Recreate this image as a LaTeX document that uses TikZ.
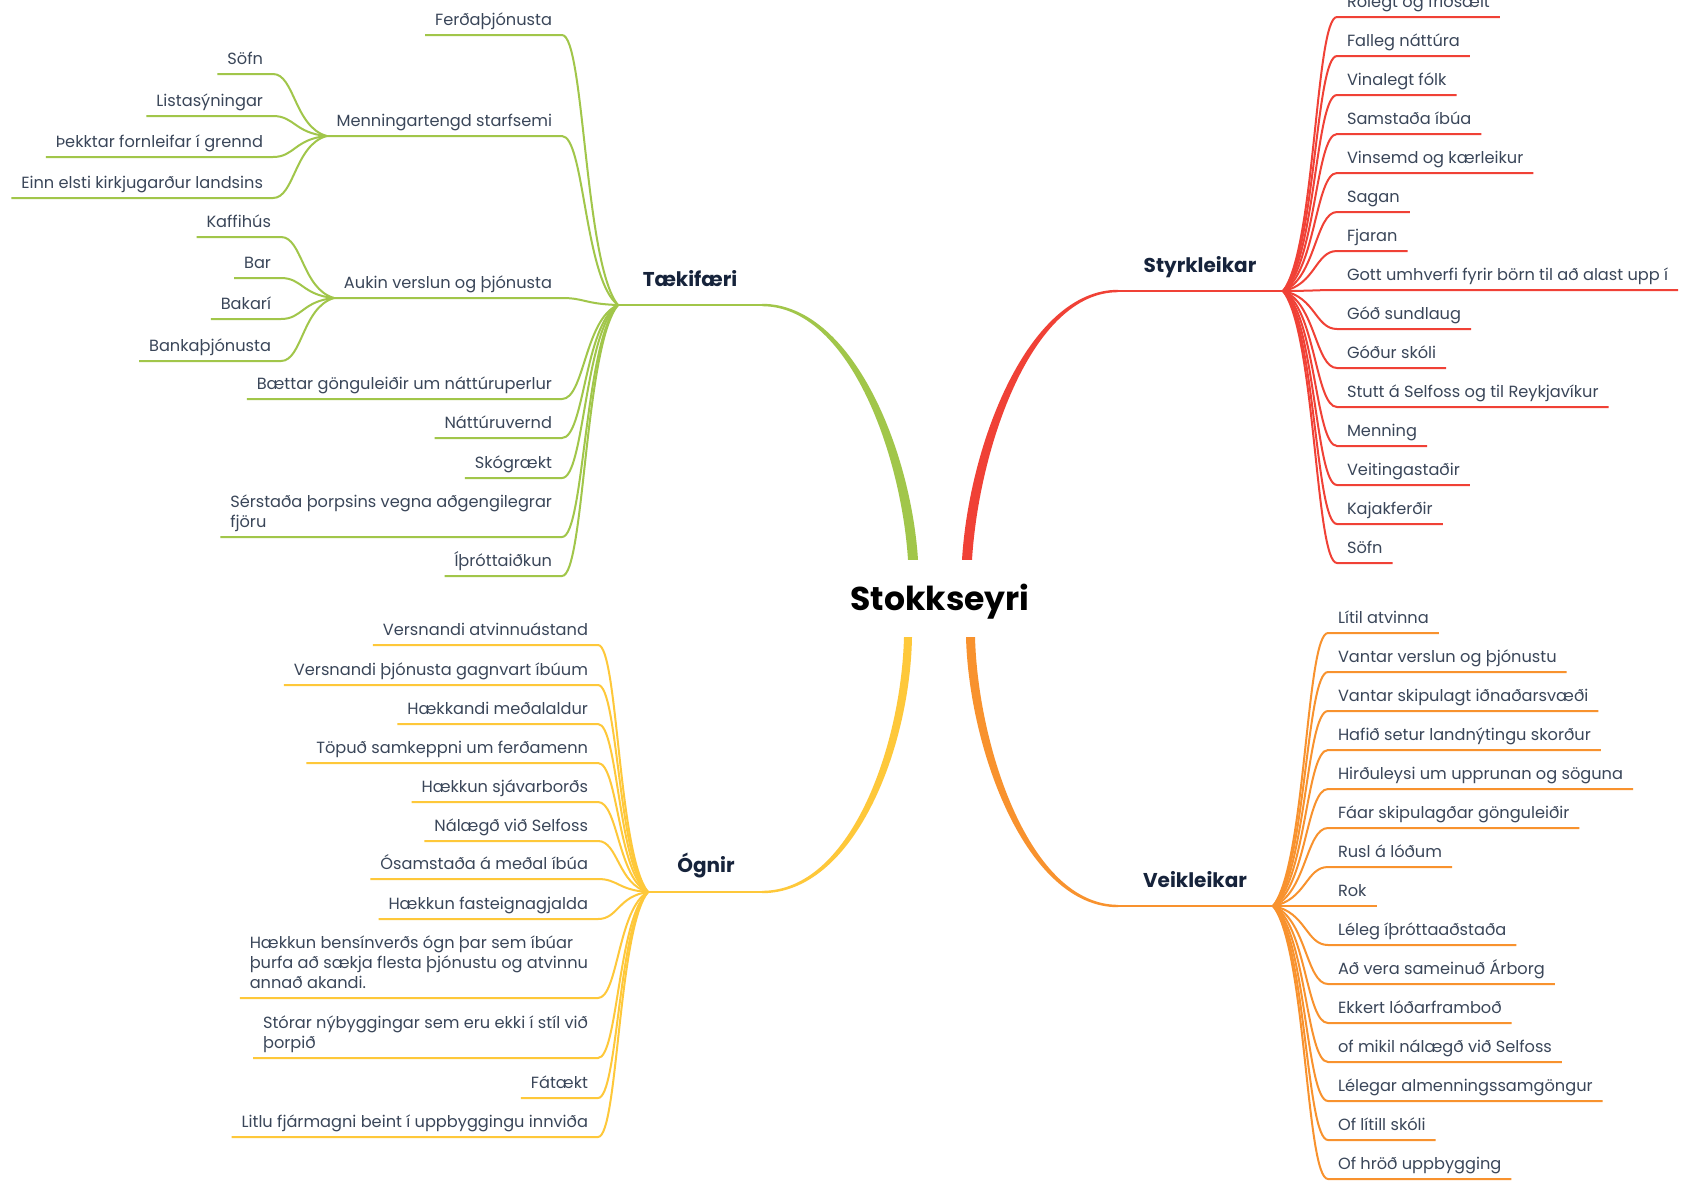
\documentclass[tikz,border=0pt]{standalone}
\usepackage{fontspec}
\setmainfont{Poppins}
\usetikzlibrary{calc}

\definecolor{tkgreen}{HTML}{A1C64A}
\definecolor{stred}{HTML}{F04136}
\definecolor{ogyellow}{HTML}{FEC83A}
\definecolor{veorange}{HTML}{F8922E}
\definecolor{leafink}{HTML}{3A4659}
\definecolor{topicink}{HTML}{16233B}

\newcommand{\leaffont}{\fontsize{16.2}{20}\selectfont}
\newcommand{\topicfont}{\fontsize{20}{24}\selectfont\bfseries}
\newcommand{\rootfont}{\fontsize{33}{38}\selectfont\bfseries}
\newcommand{\stacked}[1]{\begin{tabular}[b]{@{}l@{}}#1\end{tabular}}

\tikzset{
  twig/.style={to path={let \p1=(\tikztostart), \p2=(\tikztotarget) in
    .. controls ({\x1+0.6*(\x2-\x1)},{\y1+0.15*(\y2-\y1)}) and ({\x2-0.4*(\x2-\x1)},\y2) .. (\tikztotarget)}}
}

\begin{document}
\begin{tikzpicture}[x=1pt,y=-1pt,
  root/.style={font=\rootfont,text=black,minimum width=190pt,minimum height=77pt,inner sep=0pt,text height=24pt,text depth=0pt},
  topic/.style={font=\topicfont,text=topicink,anchor=base},
  leafL/.style={font=\leaffont,text=leafink,inner xsep=10pt,inner ysep=0pt,outer sep=0pt,text depth=9.5pt,anchor=south east},
  leafR/.style={leafL,anchor=south west},
  trunk/.style={line width=2.5pt},
  tkline/.style={draw=tkgreen,line width=2pt,twig},
  stline/.style={draw=stred,line width=2pt,twig},
  ogline/.style={draw=ogyellow,line width=2pt,twig},
  veline/.style={draw=veorange,line width=2pt,twig}
]
  \useasboundingbox (0,0) rectangle (1686,1184);
  \fill[white] (0,0) rectangle (1686,1184);

  \node[root] (root) at (940,598.5) {Stokkseyri};

  % Tækifæri
  \coordinate (tkJ) at (618,305);
  \coordinate (tkA) at (762,305);
  \node[topic] (tk) at (690,286) {Tækifæri};
  \draw[trunk,tkgreen] (tkJ) -- (tkA);
  \fill[tkgreen] ([yshift=1.2pt]tkA) .. controls +(90,0) and +(-7,-110) .. ([xshift=-22pt]root.north)
    -- ([xshift=-32pt]root.north) .. controls +(-7,-108) and +(86,0) .. ([yshift=-1.2pt]tkA) -- cycle;

  \node[leafL] (tk1) at (562,35) {Ferðaþjónusta};
  \node[leafL] (tk2) at (562,136) {Menningartengd starfsemi};
  \node[leafL] (tk3) at (562,298) {Aukin verslun og þjónusta};
  \node[leafL] (tk4) at (562,399) {Bættar gönguleiðir um náttúruperlur};
  \node[leafL] (tk5) at (562,438) {Náttúruvernd};
  \node[leafL] (tk6) at (562,478) {Skógrækt};
  \node[leafL] (tk7) at (562,537) {\stacked{Sérstaða þorpsins vegna aðgengilegrar\\fjöru}};
  \node[leafL] (tk8) at (562,576) {Íþróttaiðkun};
  \foreach \i in {1,...,8}
    \draw[tkline] (tkJ) to (tk\i.south east) -- (tk\i.south west);

  \node[leafL] (tk2a) at (273,74) {Söfn};
  \node[leafL] (tk2b) at (273,116) {Listasýningar};
  \node[leafL] (tk2c) at (273,157) {Þekktar fornleifar í grennd};
  \node[leafL] (tk2d) at (273,198) {Einn elsti kirkjugarður landsins};
  \node[leafL] (tk3a) at (281,237) {Kaffihús};
  \node[leafL] (tk3b) at (281,278) {Bar};
  \node[leafL] (tk3c) at (281,319) {Bakarí};
  \node[leafL] (tk3d) at (281,361) {Bankaþjónusta};
  \foreach \g in {2,3}
    \foreach \s in {a,b,c,d}
      \draw[tkline] (tk\g.south west) to (tk\g\s.south east) -- (tk\g\s.south west);

  % Styrkleikar
  \coordinate (stJ) at (1283,291);
  \coordinate (stA) at (1118,291);
  \node[topic] (st) at (1200,272) {Styrkleikar};
  \draw[trunk,stred] (stJ) -- (stA);
  \fill[stred] ([yshift=1.2pt]stA) .. controls +(-90,0) and +(7,-115) .. ([xshift=22pt]root.north)
    -- ([xshift=32pt]root.north) .. controls +(7,-113) and +(-86,0) .. ([yshift=-1.2pt]stA) -- cycle;

  \foreach \txt [count=\i] in {Rólegt og friðsælt, Falleg náttúra, Vinalegt fólk, Samstaða íbúa,
      Vinsemd og kærleikur, Sagan, Fjaran, Gott umhverfi fyrir börn til að alast upp í, Góð sundlaug,
      Góður skóli, Stutt á Selfoss og til Reykjavíkur, Menning, Veitingastaðir, Kajakferðir, Söfn} {
    \node[leafR] (st\i) at (1337,{17+39*(\i-1)}) {\txt};
    \draw[stline] (stJ) to (st\i.south west) -- (st\i.south east);
  }

  % Ógnir
  \coordinate (ogJ) at (648,892);
  \coordinate (ogA) at (762,892);
  \node[topic] (og) at (706,872) {Ógnir};
  \draw[trunk,ogyellow] (ogJ) -- (ogA);
  \fill[ogyellow] ([yshift=-1.2pt]ogA) .. controls +(92,0) and +(-2,112) .. ([xshift=-28pt]root.south)
    -- ([xshift=-36pt]root.south) .. controls +(-3,110) and +(88,0) .. ([yshift=1.2pt]ogA) -- cycle;

  \node[leafL] (og1) at (598,645) {Versnandi atvinnuástand};
  \node[leafL] (og2) at (598,685) {Versnandi þjónusta gagnvart íbúum};
  \node[leafL] (og3) at (598,724) {Hækkandi meðalaldur};
  \node[leafL] (og4) at (598,763) {Töpuð samkeppni um ferðamenn};
  \node[leafL] (og5) at (598,802) {Hækkun sjávarborðs};
  \node[leafL] (og6) at (598,841) {Nálægð við Selfoss};
  \node[leafL] (og7) at (598,879) {Ósamstaða á meðal íbúa};
  \node[leafL] (og8) at (598,919) {Hækkun fasteignagjalda};
  \node[leafL] (og9) at (598,998) {\stacked{Hækkun bensínverðs ógn þar sem íbúar\\þurfa að sækja flesta þjónustu og atvinnu\\annað akandi.}};
  \node[leafL] (og10) at (598,1058) {\stacked{Stórar nýbyggingar sem eru ekki í stíl við\\þorpið}};
  \node[leafL] (og11) at (598,1098) {Fátækt};
  \node[leafL] (og12) at (598,1137) {Litlu fjármagni beint í uppbyggingu innviða};
  \foreach \i in {1,...,12}
    \draw[ogline] (ogJ) to (og\i.south east) -- (og\i.south west);

  % Veikleikar
  \coordinate (veJ) at (1273,906);
  \coordinate (veA) at (1118,906);
  \node[topic] (ve) at (1195,887) {Veikleikar};
  \draw[trunk,veorange] (veJ) -- (veA);
  \fill[veorange] ([yshift=-1.2pt]veA) .. controls +(-92,0) and +(3,112) .. ([xshift=26pt]root.south)
    -- ([xshift=35pt]root.south) .. controls +(3,110) and +(-88,0) .. ([yshift=1.2pt]veA) -- cycle;

  \foreach \txt [count=\i] in {Lítil atvinna, Vantar verslun og þjónustu, Vantar skipulagt iðnaðarsvæði,
      Hafið setur landnýtingu skorður, Hirðuleysi um upprunan og söguna, Fáar skipulagðar gönguleiðir,
      Rusl á lóðum, Rok, Léleg íþróttaaðstaða, Að vera sameinuð Árborg, Ekkert lóðarframboð,
      of mikil nálægð við Selfoss, Lélegar almenningssamgöngur, Of lítill skóli, Of hröð uppbygging} {
    \node[leafR] (ve\i) at (1328,{633+39*(\i-1)}) {\txt};
    \draw[veline] (veJ) to (ve\i.south west) -- (ve\i.south east);
  }
\end{tikzpicture}
\end{document}
